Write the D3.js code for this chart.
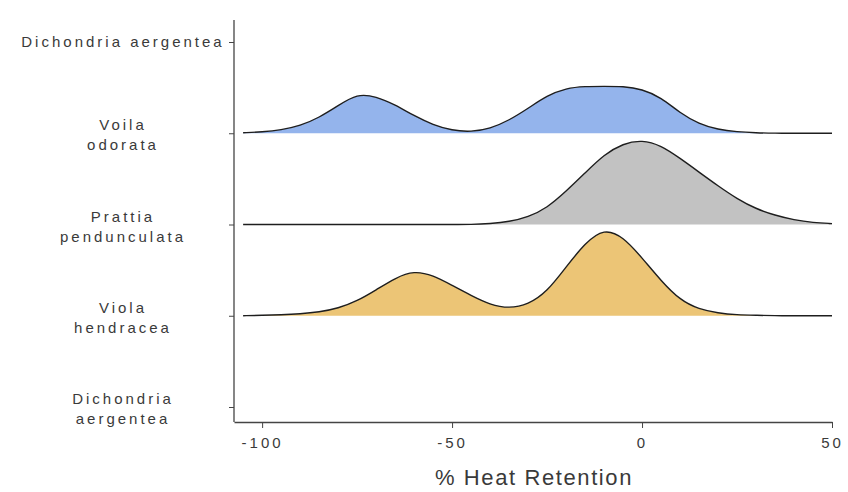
<!DOCTYPE html>
<html>
<head>
<meta charset="utf-8">
<script src="https://cdn.jsdelivr.net/npm/d3@7"></script>
<style>
  html, body { margin: 0; padding: 0; background: #fff; }
  svg { display: block; }
  text { font-family: "Liberation Sans", Arial, sans-serif; fill: #3a3a3a; }
</style>
</head>
<body>
<svg id="chart" width="848" height="492"></svg>
<script>
// ---- data ----
const categories = ["Dichondria aergentea (top)", "Voila odorata", "Prattia penduncu­lata", "Viola hendracea", "Dichondria aergentea (bottom)"];
const categoryLabels = [["Dichondria aergentea"], ["Voila", "odorata"], ["Prattia", "penduncu\u00adlata".replace("\u00ad","")], ["Viola", "hendracea"], ["Dichondria", "aergentea"]];
const xTicks = [-100, -50, 0, 50];
const heatGrid = [-105, -100, -95, -90, -85, -80, -75, -70, -65, -60, -55, -50, -45, -40, -35, -30, -25, -20, -15, -10, -5, 0, 5, 10, 15, 20, 25, 30, 35, 40, 45, 50];
const voilaOdorata = [0.005, 0.015, 0.035, 0.08, 0.17, 0.30, 0.43, 0.40, 0.31, 0.19, 0.09, 0.03, 0.015, 0.05, 0.14, 0.27, 0.41, 0.49, 0.51, 0.51, 0.51, 0.48, 0.39, 0.22, 0.10, 0.04, 0.015, 0.005, 0, 0, 0, 0];
const prattiaPenduncu = [0, 0, 0, 0, 0, 0, 0, 0, 0, 0, 0, 0, 0, 0.01, 0.03, 0.08, 0.18, 0.36, 0.56, 0.76, 0.88, 0.92, 0.86, 0.72, 0.57, 0.42, 0.28, 0.17, 0.10, 0.05, 0.02, 0.01];
const violaHendracea = [0, 0.005, 0.01, 0.02, 0.04, 0.08, 0.16, 0.28, 0.41, 0.49, 0.44, 0.33, 0.22, 0.12, 0.08, 0.12, 0.26, 0.53, 0.79, 0.95, 0.86, 0.63, 0.38, 0.17, 0.07, 0.03, 0.01, 0.005, 0, 0, 0, 0];
const ridgeSeries = [
  { cat: "Voila odorata", values: voilaOdorata, color: "#94b4ec" },
  { cat: "Prattia penduncu­lata", values: prattiaPenduncu, color: "#c2c2c2" },
  { cat: "Viola hendracea", values: violaHendracea, color: "#ecc576" }
];

// ---- scales ----
const svg = d3.select("#chart");
const x = d3.scaleLinear().domain([-107.4, 50]).range([234, 832]);
const y = d3.scalePoint().domain(categories).range([42, 407]);
const h = d3.scaleLinear().domain([0, 1]).range([0, 92]);

// ---- ridges ----
const curve = d3.curveBasis;
ridgeSeries.forEach(s => {
  const pts = heatGrid.map((v, i) => [v, s.values[i]]);
  const base = y(s.cat);
  const area = d3.area().x(d => x(d[0])).y0(base).y1(d => base - h(d[1])).curve(curve);
  const line = d3.line().x(d => x(d[0])).y(d => base - h(d[1])).curve(curve);
  svg.append("path").attr("d", area(pts)).attr("fill", s.color).attr("stroke", "none");
  svg.append("path").attr("d", line(pts)).attr("fill", "none").attr("stroke", "#1e1e1e").attr("stroke-width", 1.4);
});

// ---- axes ----
const xAxis = svg.append("g").attr("transform", "translate(0,422)")
  .call(d3.axisBottom(x).tickValues(xTicks).tickFormat(d => String(d)).tickSize(6).tickSizeOuter(0).tickPadding(6));
xAxis.select(".domain").attr("stroke", "#444").attr("stroke-width", 1.3);
xAxis.selectAll(".tick line").attr("stroke", "#444");
xAxis.selectAll(".tick text").attr("font-size", 15).style("letter-spacing", "3px").attr("fill", "#3a3a3a")
  .attr("font-family", "Liberation Sans, Arial, sans-serif").attr("dy", "0.95em");

const yAxis = svg.append("g").attr("transform", "translate(234,0)")
  .call(d3.axisLeft(y).tickSize(5).tickSizeOuter(0).tickFormat(""));
yAxis.select(".domain").attr("stroke", "#444").attr("stroke-width", 1.3).attr("d", "M0,20V422");
yAxis.selectAll(".tick line").attr("stroke", "#444");

// y labels
categories.forEach((c, i) => {
  const lines = categoryLabels[i];
  const t = svg.append("text").attr("text-anchor", "middle").attr("font-size", 15)
    .style("letter-spacing", "3px");
  if (lines.length === 1) {
    t.append("tspan").attr("x", 123).attr("y", y(c) + 5).text(lines[0]);
  } else {
    t.append("tspan").attr("x", 123).attr("y", y(c) - 3).text(lines[0]);
    t.append("tspan").attr("x", 123).attr("y", y(c) + 17).text(lines[1]);
  }
});

// x title
svg.append("text").attr("x", 534).attr("y", 485).attr("text-anchor", "middle")
  .attr("font-size", 22).style("letter-spacing", "1.6px").text("% Heat Retention");
</script>
</body>
</html>
